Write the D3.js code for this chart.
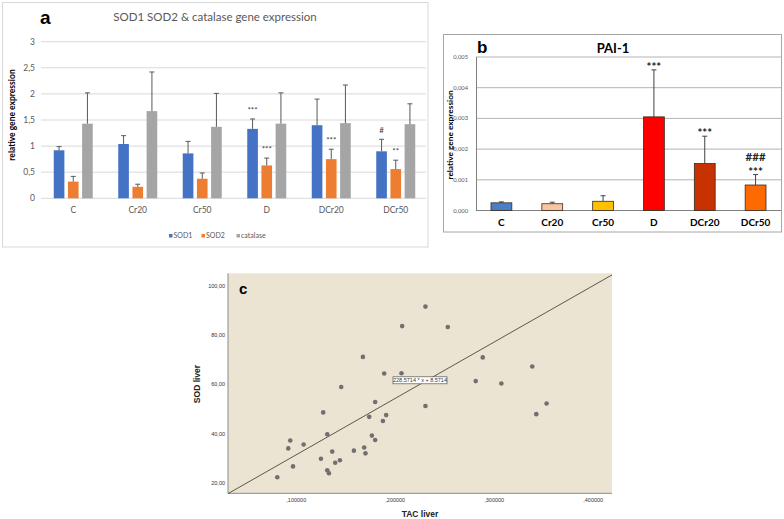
<!DOCTYPE html>
<html><head><meta charset="utf-8">
<script src="https://cdn.jsdelivr.net/npm/d3@7"></script>
<style>body{margin:0;background:#fff}svg{display:block}</style>
</head><body>
<svg id="fig" width="784" height="519"></svg>
<script>
// ---------- Panel a data ----------
const catsA = ["C","Cr20","Cr50","D","DCr20","DCr50"];
const seriesA = ["SOD1","SOD2","catalase"];
const sod1 = [0.92,1.04,0.86,1.33,1.40,0.90];
const sod1Err = [0.07,0.16,0.23,0.19,0.50,0.23];
const sod2 = [0.32,0.22,0.375,0.63,0.75,0.56];
const sod2Err = [0.10,0.05,0.11,0.14,0.19,0.17];
const catalase = [1.43,1.67,1.37,1.43,1.44,1.42];
const catalaseErr = [0.59,0.75,0.64,0.59,0.73,0.39];
const ticksA = [0,0.5,1,1.5,2,2.5,3];
const annotA = [
  {cat:"D", s:"SOD1", text:"***"},
  {cat:"D", s:"SOD2", text:"***"},
  {cat:"DCr20", s:"SOD2", text:"***"},
  {cat:"DCr50", s:"SOD1", text:"#"},
  {cat:"DCr50", s:"SOD2", text:"**"}
];
const colorsA = ["#4472C4","#ED7D31","#A5A5A5"];

// ---------- Panel b data ----------
const catsB = ["C","Cr20","Cr50","D","DCr20","DCr50"];
const pai1 = [0.00025,0.00022,0.00030,0.00305,0.00153,0.00083];
const pai1Err = [0.00003,0.00005,0.00018,0.00153,0.00089,0.00034];
const colorsB = ["#4A7EC7","#F8C5A0","#FFC000","#FF0000","#C83200","#FF6A00"];
const ticksB = [0,0.001,0.002,0.003,0.004,0.005];
const annotB = [
  {cat:"D", lines:["***"]},
  {cat:"DCr20", lines:["***"]},
  {cat:"DCr50", lines:["###","***"]}
];

// ---------- Panel c data ----------
const tacLiver = [0.0808,0.0919,0.0939,0.0967,0.1074,0.1249,0.1272,0.1313,0.1313,0.1330,0.1363,0.1393,0.1441,0.1454,0.1582,0.1673,0.1686,0.1699,0.1737,0.1764,0.1797,0.1797,0.1875,0.1888,0.1908,0.2063,0.2070,0.2305,0.2305,0.2531,0.2813,0.2884,0.3072,0.3384,0.3425,0.3529];
const sodLiver = [22.3,34.0,37.2,26.7,35.6,29.8,48.6,39.7,25.1,23.9,32.7,28.2,29.2,58.9,33.1,71.1,34.4,32.0,46.8,39.2,52.8,37.4,45.1,64.4,47.5,64.5,83.6,91.5,51.2,83.2,61.3,70.9,60.3,67.2,47.9,52.2];
const fitSlope = 228.5714, fitIntercept = 8.5714;
const ticksCx = [0.1,0.2,0.3,0.4];
const ticksCy = [20,40,60,80,100];

const svg = d3.select("#fig");
const fmtComma = (v, d) => d3.format("." + d + "f")(v).replace(".", ",");

// ================= PANEL A =================
(function(){
  const g = svg.append("g");
  g.append("rect").attr("x",2.5).attr("y",2.5).attr("width",425.5).attr("height",244.5)
    .attr("fill","#fff").attr("stroke","#d9d9d9");
  const x = d3.scaleBand().domain(catsA).range([41,428]);
  const xs = d3.scaleBand().domain(seriesA).range([12.75, x.bandwidth()-12.75]).paddingInner(0.25);
  const y = d3.scaleLinear().domain([0,3]).range([198.3,41.7]);
  g.selectAll(".ga").data(ticksA).join("line")
    .attr("x1",41).attr("x2",426).attr("y1",d=>y(d)).attr("y2",d=>y(d))
    .attr("stroke","#d9d9d9").attr("stroke-width",1);
  g.selectAll(".ta").data(ticksA).join("text")
    .attr("x",35).attr("y",d=>y(d)+3).attr("text-anchor","end")
    .attr("font-family","Lato, 'Open Sans', sans-serif").attr("font-size",8.5).attr("fill","#595959")
    .text(d=>fmtComma(d, d%1===0?0:1));
  const vals = [sod1,sod2,catalase], errs=[sod1Err,sod2Err,catalaseErr];
  seriesA.forEach((s,si)=>{
    catsA.forEach((c,ci)=>{
      const bx = x(c)+xs(s), bw = xs.bandwidth(), v = vals[si][ci], e = errs[si][ci];
      g.append("rect").attr("x",bx).attr("y",y(v)).attr("width",bw).attr("height",y(0)-y(v)).attr("fill",colorsA[si]);
      const cx = bx+bw/2;
      g.append("line").attr("x1",cx).attr("x2",cx).attr("y1",y(v)).attr("y2",y(v+e)).attr("stroke","#595959").attr("stroke-width",1);
      g.append("line").attr("x1",cx-2.5).attr("x2",cx+2.5).attr("y1",y(v+e)).attr("y2",y(v+e)).attr("stroke","#595959").attr("stroke-width",1);
    });
  });
  annotA.forEach(a=>{
    const si = seriesA.indexOf(a.s), ci = catsA.indexOf(a.cat);
    const top = vals[si][ci]+errs[si][ci];
    g.append("text").attr("x",x(a.cat)+xs(a.s)+xs.bandwidth()/2).attr("y",y(top)-6)
      .attr("text-anchor","middle").attr("font-family","Lato, sans-serif").attr("font-size",8).attr("fill","#404040").text(a.text);
  });
  g.selectAll(".xa").data(catsA).join("text")
    .attr("x",d=>x(d)+x.bandwidth()/2).attr("y",213).attr("text-anchor","middle")
    .attr("font-family","Lato, 'Open Sans', sans-serif").attr("font-size",8.5).attr("fill","#595959").text(d=>d);
  g.append("text").attr("x",215).attr("y",21).attr("text-anchor","middle")
    .attr("font-family","Lato, 'Open Sans', sans-serif").attr("font-size",11.5).attr("fill","#595959")
    .text("SOD1 SOD2 & catalase gene expression");
  g.append("text").attr("x",40).attr("y",24).attr("font-family","'Liberation Sans', Arial, sans-serif")
    .attr("font-weight","bold").attr("font-size",19).attr("fill","#000").text("a");
  g.append("text").attr("transform","translate(15,115) rotate(-90)").attr("text-anchor","middle")
    .attr("font-family","Lato, sans-serif").attr("font-weight","bold").attr("font-size",8.5).attr("fill","#000")
    .text("relative gene expression");
  const lx = [169,201.5,236.5];
  seriesA.forEach((s,i)=>{
    g.append("rect").attr("x",lx[i]).attr("y",234).attr("width",3.5).attr("height",3.5).attr("fill",colorsA[i]);
    g.append("text").attr("x",lx[i]+4.5).attr("y",238.2).attr("font-family","Lato, 'Open Sans', sans-serif")
      .attr("font-size",7).attr("fill","#595959").text(s);
  });
})();

// ================= PANEL B =================
(function(){
  const g = svg.append("g");
  g.append("rect").attr("x",443.5).attr("y",34.5).attr("width",338).attr("height",197.5)
    .attr("fill","#fff").attr("stroke","#a6a6a6");
  const x = d3.scaleBand().domain(catsB).range([476,781]);
  const y = d3.scaleLinear().domain([0,0.005]).range([210.5,57]);
  g.selectAll(".gb").data(ticksB).join("line")
    .attr("x1",476).attr("x2",781).attr("y1",d=>y(d)).attr("y2",d=>y(d))
    .attr("stroke",d=>d===0?"#808080":"#b3b3b3").attr("stroke-width",1);
  g.append("line").attr("x1",476.5).attr("x2",476.5).attr("y1",y(0.005)).attr("y2",y(0)).attr("stroke","#808080");
  g.selectAll(".tb").data(ticksB).join("text")
    .attr("x",468).attr("y",d=>y(d)+2).attr("text-anchor","end")
    .attr("font-family","Lato, sans-serif").attr("font-size",5.8).attr("fill","#595959")
    .text(d=>fmtComma(d,3));
  const bw = x.bandwidth()*0.41;
  catsB.forEach((c,i)=>{
    const cx = x(c)+x.bandwidth()/2, v = pai1[i], e = pai1Err[i];
    g.append("line").attr("x1",cx).attr("x2",cx).attr("y1",y(v)).attr("y2",y(v+e)).attr("stroke","#404040");
    g.append("line").attr("x1",cx-2.5).attr("x2",cx+2.5).attr("y1",y(v+e)).attr("y2",y(v+e)).attr("stroke","#404040");
    g.append("rect").attr("x",cx-bw/2).attr("y",y(v)).attr("width",bw).attr("height",y(0)-y(v))
      .attr("fill",colorsB[i]).attr("stroke","#3a2a20").attr("stroke-width",0.8);
  });
  annotB.forEach(a=>{
    const i = catsB.indexOf(a.cat), top = pai1[i]+pai1Err[i];
    const cx = x(a.cat)+x.bandwidth()/2;
    a.lines.slice().reverse().forEach((t,k)=>{
      g.append("text").attr("x",cx).attr("y",y(top)+ (t==="***"?2:0) - k*12.5 - 1)
        .attr("text-anchor","middle").attr("font-family","Lato, sans-serif").attr("font-weight","bold")
        .attr("font-size",11.5).attr("fill","#262626").text(t);
    });
  });
  g.selectAll(".xb").data(catsB).join("text")
    .attr("x",d=>x(d)+x.bandwidth()/2).attr("y",226).attr("text-anchor","middle")
    .attr("font-family","Lato, sans-serif").attr("font-weight","bold").attr("font-size",10).attr("fill","#000").text(d=>d);
  g.append("text").attr("x",613).attr("y",53).attr("text-anchor","middle")
    .attr("font-family","Lato, sans-serif").attr("font-weight","bold").attr("font-size",13).attr("fill","#000").text("PAI-1");
  g.append("text").attr("x",477).attr("y",53).attr("font-family","'Liberation Sans', Arial, sans-serif")
    .attr("font-weight","bold").attr("font-size",17).attr("fill","#000").text("b");
  g.append("text").attr("transform","translate(452.5,135) rotate(-90)").attr("text-anchor","middle")
    .attr("font-family","Lato, sans-serif").attr("font-weight","bold").attr("font-size",8.3).attr("fill","#000")
    .text("relative gene expression");
})();

// ================= PANEL C =================
(function(){
  const g = svg.append("g");
  const x = d3.scaleLinear().domain([0.031,0.419]).range([228,612]);
  const y = d3.scaleLinear().domain([15.8,105]).range([493.3,273.3]);
  g.append("rect").attr("x",228).attr("y",273.3).attr("width",384).attr("height",220).attr("fill","#EBE4D2");
  g.append("line").attr("x1",228).attr("x2",228).attr("y1",273.3).attr("y2",493.3).attr("stroke","#8a8a8a");
  g.append("line").attr("x1",228).attr("x2",612).attr("y1",493.3).attr("y2",493.3).attr("stroke","#8a8a8a");
  g.selectAll(".tcx").data(ticksCx).join("text")
    .attr("x",d=>x(d)).attr("y",502).attr("text-anchor","middle")
    .attr("font-family","'Liberation Sans', Arial, sans-serif").attr("font-size",5.5).attr("fill","#333")
    .text(d=>"," + d3.format(".6f")(d).split(".")[1]);
  g.selectAll(".tcy").data(ticksCy).join("text")
    .attr("x",225).attr("y",d=>y(d)+2).attr("text-anchor","end")
    .attr("font-family","'Liberation Sans', Arial, sans-serif").attr("font-size",5.5).attr("fill","#333")
    .text(d=>fmtComma(d,2));
  const xd = x.domain();
  g.append("line").attr("x1",x(xd[0])).attr("y1",y(fitSlope*xd[0]+fitIntercept))
    .attr("x2",x(xd[1])).attr("y2",y(fitSlope*xd[1]+fitIntercept)).attr("stroke","#4a4a3a").attr("stroke-width",0.9);
  g.selectAll(".pt").data(tacLiver).join("circle")
    .attr("cx",d=>x(d)).attr("cy",(d,i)=>y(sodLiver[i])).attr("r",2.3).attr("fill","#707070");
  const lblX = 420, lblY = 380.3;
  g.append("rect").attr("x",lblX-27).attr("y",lblY-3.5).attr("width",54).attr("height",7)
    .attr("fill","#fff").attr("stroke","#555").attr("stroke-width",0.7);
  g.append("text").attr("x",lblX).attr("y",lblY+2).attr("text-anchor","middle")
    .attr("font-family","'Liberation Sans', Arial, sans-serif").attr("font-size",5.5).attr("fill","#333")
    .text(fitSlope.toFixed(4) + " * x + " + fitIntercept.toFixed(4));
  g.append("text").attr("x",239).attr("y",294).attr("font-family","'Liberation Sans', Arial, sans-serif")
    .attr("font-weight","bold").attr("font-size",15).attr("fill","#000").text("c");
  g.append("text").attr("x",420).attr("y",517).attr("text-anchor","middle")
    .attr("font-family","'Liberation Sans', Arial, sans-serif").attr("font-weight","bold").attr("font-size",8.5).attr("fill","#222").text("TAC liver");
  g.append("text").attr("transform","translate(200,384) rotate(-90)").attr("text-anchor","middle")
    .attr("font-family","'Liberation Sans', Arial, sans-serif").attr("font-weight","bold").attr("font-size",8.5).attr("fill","#222").text("SOD liver");
})();
</script>
</body></html>
